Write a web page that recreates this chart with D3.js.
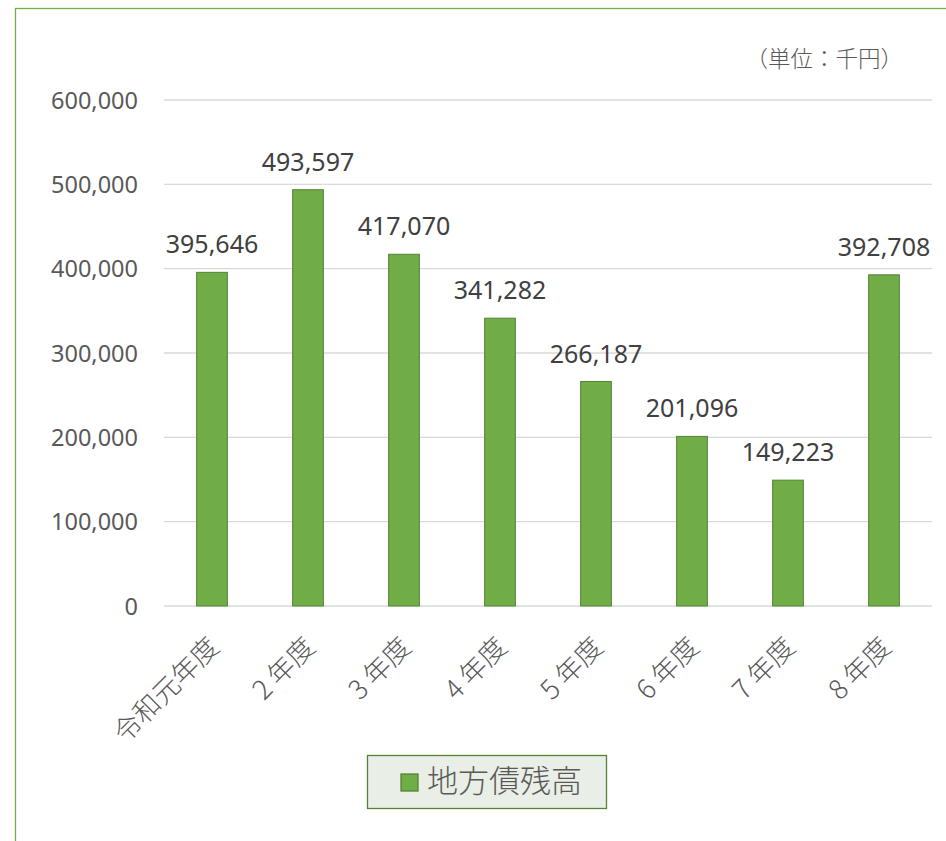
<!DOCTYPE html>
<html>
<head>
<meta charset="utf-8">
<script src="https://cdn.jsdelivr.net/npm/d3@7"></script>
<style>
  body { margin: 0; background: #ffffff; }
  svg text { font-family: "Noto Sans CJK JP", "Noto Sans", sans-serif; }
</style>
</head>
<body>
<svg id="chart" width="946" height="841"></svg>
<script>
// Data
var categories = ["令和元年度", "2 年度", "3 年度", "4 年度", "5 年度", "6 年度", "7 年度", "8 年度"];
var values = [395646, 493597, 417070, 341282, 266187, 201096, 149223, 392708];
var tickValues = [0, 100000, 200000, 300000, 400000, 500000, 600000];
var seriesName = "地方債残高";
var unitLabel = "（単位：千円）";

var svg = d3.select("#chart");

// Chart area border (left + top visible)
svg.append("rect")
    .attr("x", 15.5).attr("y", 8.5)
    .attr("width", 1000).attr("height", 900)
    .attr("fill", "#ffffff")
    .attr("stroke", "#70ad47")
    .attr("stroke-width", 1.3);

var x = d3.scaleBand().domain(categories).range([164, 932]).paddingInner(0.68).paddingOuter(0.34);
var y = d3.scaleLinear().domain([0, 600000]).range([606, 100]);

// Gridlines
svg.append("g")
    .selectAll("line")
    .data(tickValues)
    .enter().append("line")
    .attr("x1", 164).attr("x2", 932)
    .attr("y1", d => y(d)).attr("y2", d => y(d))
    .attr("stroke", "#d9d9d9")
    .attr("stroke-width", 1.3);

// Y axis labels
var yAxis = d3.axisLeft(y).tickValues(tickValues).tickSize(0).tickPadding(0)
    .tickFormat(d3.format(","));
var yG = svg.append("g").attr("transform", "translate(138,0)").call(yAxis);
yG.select(".domain").remove();
yG.selectAll("text")
    .attr("fill", "#595959")
    .style("font-size", "23.5px")
    .style("font-family", "'Noto Sans', sans-serif")
    .attr("dy", "0.35em");

// Bars
svg.append("g")
    .selectAll("rect")
    .data(values)
    .enter().append("rect")
    .attr("x", (d, i) => x(categories[i]))
    .attr("y", d => y(d))
    .attr("width", x.bandwidth())
    .attr("height", d => y(0) - y(d))
    .attr("fill", "#70ad47")
    .attr("stroke", "#548235")
    .attr("stroke-width", 1);

// Data labels
svg.append("g")
    .selectAll("text")
    .data(values)
    .enter().append("text")
    .attr("x", (d, i) => x(categories[i]) + x.bandwidth() / 2)
    .attr("y", d => y(d) - 19)
    .attr("text-anchor", "middle")
    .attr("fill", "#404040")
    .style("font-size", "25px")
    .style("font-family", "'Noto Sans', sans-serif")
    .text(d => d3.format(",")(d));

// Category labels (rotated)
svg.append("g")
    .selectAll("text")
    .data(categories)
    .enter().append("text")
    .attr("transform", d => "translate(" + (x(d) + x.bandwidth() / 2 + 2) + ",642) rotate(-45)")
    .attr("text-anchor", "end")
    .attr("dy", "0.35em")
    .attr("fill", "#595959")
    .style("font-size", "27px")
    .style("font-weight", "300")
    .text(d => d);

// Unit label
svg.append("text")
    .attr("x", 903).attr("y", 59)
    .attr("text-anchor", "end")
    .attr("dy", "0.35em")
    .attr("fill", "#595959")
    .style("font-size", "22.5px")
    .style("font-weight", "300")
    .text(unitLabel);

// Legend
var legend = svg.append("g");
legend.append("rect")
    .attr("x", 367.5).attr("y", 755.5)
    .attr("width", 239).attr("height", 53)
    .attr("fill", "#e9efe6")
    .attr("stroke", "#548235")
    .attr("stroke-width", 1.3);
legend.append("rect")
    .attr("x", 401).attr("y", 774)
    .attr("width", 17).attr("height", 17)
    .attr("fill", "#70ad47")
    .attr("stroke", "#548235")
    .attr("stroke-width", 1.3);
legend.append("text")
    .attr("x", 427).attr("y", 781)
    .attr("dy", "0.35em")
    .attr("fill", "#595959")
    .style("font-size", "31px")
    .style("font-weight", "300")
    .text(seriesName);
</script>
</body>
</html>
